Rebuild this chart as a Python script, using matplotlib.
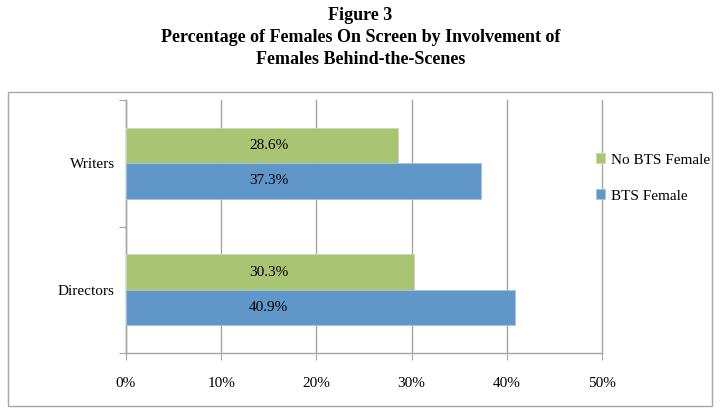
import matplotlib.pyplot as plt
import numpy as np
from matplotlib.patches import Rectangle

categories = ['Directors', 'Writers']
no_bts = [30.3, 28.6]
bts = [40.9, 37.3]
series_names = ['No BTS Female', 'BTS Female']

green = '#A9C472'
blue = '#6096C8'

plt.rcParams['font.family'] = ['Liberation Serif', 'DejaVu Serif']

W, H = 721, 413
fig = plt.figure(figsize=(W / 100, H / 100), dpi=100)

# outer chart border
fig.patches.append(Rectangle((8 / W, 1 - 406 / H), (712 - 8) / W, (406 - 92) / H,
                             transform=fig.transFigure, fill=False,
                             edgecolor='#A6A6A6', linewidth=1))

fig.text(0.5, 1 - 15 / H, 'Figure 3', ha='center', va='center',
         fontsize=13, fontweight='bold')
fig.text(0.5, 1 - 38 / H, 'Percentage of Females On Screen by Involvement of',
         ha='center', va='center', fontsize=13, fontweight='bold')
fig.text(0.5, 1 - 60 / H, 'Females Behind-the-Scenes', ha='center', va='center',
         fontsize=13, fontweight='bold')

ax = fig.add_axes([126 / W, 1 - 353 / H, (602 - 126) / W, (353 - 100) / H])

y = np.arange(len(categories)) + 0.5
h = 0.28
b1 = ax.barh(y + h / 2, no_bts, height=h, color=green, edgecolor='#C9DBA8',
             linewidth=0.6, label=series_names[0], zorder=3)
b2 = ax.barh(y - h / 2, bts, height=h, color=blue, edgecolor='#A5C3E2',
             linewidth=0.6, label=series_names[1], zorder=3)

# labels sit at the same spot inside every bar, as in the original
for bars, vals in ((b1, no_bts), (b2, bts)):
    for bar, v in zip(bars, vals):
        ax.text(15, bar.get_y() + bar.get_height() / 2, f'{v:.1f}%',
                ha='center', va='center', fontsize=11, zorder=4)

ax.set_xlim(0, 50)
ax.set_ylim(0, 2)
ax.set_xticks(np.arange(0, 51, 10))
ax.set_xticklabels([f'{t}%' for t in range(0, 51, 10)], fontsize=11)
ax.set_yticks([0, 1, 2])
ax.set_yticklabels([])
ax.set_yticks(y, minor=True)
ax.set_yticklabels(categories, minor=True, fontsize=11)
ax.tick_params(axis='y', which='minor', length=0, pad=8)
ax.tick_params(axis='y', which='major', length=5, color='#A6A6A6')
ax.tick_params(axis='x', length=5, color='#A6A6A6', pad=12)

ax.grid(axis='x', color='#A6A6A6', linewidth=1, zorder=0)
for gl in ax.get_xgridlines():
    gl.set_clip_on(False)
for s in ('top', 'right'):
    ax.spines[s].set_visible(False)
for s in ('left', 'bottom'):
    ax.spines[s].set_color('#A6A6A6')
    ax.spines[s].set_linewidth(1)

ax.legend(handles=[b1, b2], loc='center left', bbox_to_anchor=(582 / W, 1 - 178 / H),
          bbox_transform=fig.transFigure, frameon=False, fontsize=11,
          handlelength=0.6, handleheight=0.6, handletextpad=0.4, labelspacing=1.5)

fig.savefig('out.png', dpi=100)
